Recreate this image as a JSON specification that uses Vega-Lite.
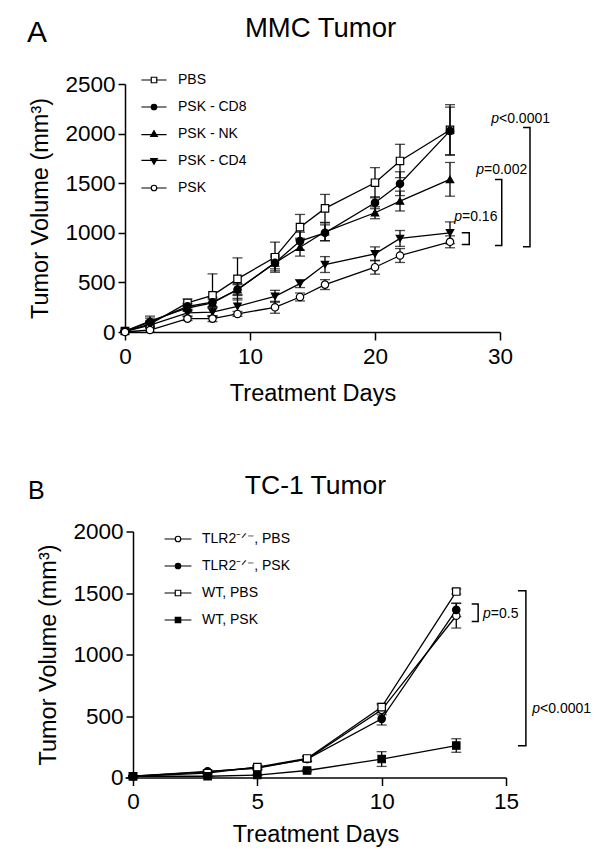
{
  "$schema": "https://vega.github.io/schema/vega-lite/v6.json",
  "background": "white",
  "padding": {"left": 27, "top": 14, "right": 5, "bottom": 5},
  "config": {
    "font": "Liberation Sans",
    "view": {"stroke": null},
    "axis": {"domainColor": "black", "domainWidth": 1.5, "tickColor": "black", "tickWidth": 1.5, "labelColor": "black", "labelFontSize": 22.5, "titleFontSize": 23.5, "titleFontWeight": "normal", "titleColor": "black", "grid": false, "labelFlush": false, "labelOverlap": false, "format": "d"},
    "axisX": {"tickSize": 8, "labelPadding": 5},
    "axisY": {"tickSize": 7, "labelPadding": 3, "titlePadding": 12},
    "legend": {"labelFontSize": 14, "labelColor": "black", "labelFont": "Liberation Sans", "rowPadding": 13, "symbolSize": 30, "symbolStrokeColor": "black", "symbolStrokeWidth": 1.2, "symbolOpacity": 1, "labelOffset": 17, "padding": 0, "symbolOffset": 0, "orient": "none"},
    "title": {"fontWeight": "normal", "color": "black", "anchor": "middle", "baseline": "alphabetic"}
  },
  "resolve": {"scale": {"shape": "independent", "fill": "independent"}, "legend": {"shape": "independent", "fill": "independent"}},
  "datasets": {
    "a": [
      {"series": "PBS", "day": 0, "vol": 10, "sem": 5},
      {"series": "PBS", "day": 2, "vol": 80, "sem": 30},
      {"series": "PBS", "day": 5, "vol": 293, "sem": 40},
      {"series": "PBS", "day": 7, "vol": 370, "sem": 216},
      {"series": "PBS", "day": 9, "vol": 535, "sem": 212},
      {"series": "PBS", "day": 12, "vol": 754, "sem": 152},
      {"series": "PBS", "day": 14, "vol": 1057, "sem": 128},
      {"series": "PBS", "day": 16, "vol": 1246, "sem": 141},
      {"series": "PBS", "day": 20, "vol": 1505, "sem": 152},
      {"series": "PBS", "day": 22, "vol": 1724, "sem": 168},
      {"series": "PBS", "day": 26, "vol": 2037, "sem": 255},
      {"series": "PSK - CD8", "day": 0, "vol": 10, "sem": 5},
      {"series": "PSK - CD8", "day": 2, "vol": 100, "sem": 40},
      {"series": "PSK - CD8", "day": 5, "vol": 259, "sem": 30},
      {"series": "PSK - CD8", "day": 7, "vol": 300, "sem": 50},
      {"series": "PSK - CD8", "day": 9, "vol": 428, "sem": 60},
      {"series": "PSK - CD8", "day": 12, "vol": 697, "sem": 80},
      {"series": "PSK - CD8", "day": 14, "vol": 916, "sem": 90},
      {"series": "PSK - CD8", "day": 16, "vol": 1000, "sem": 80},
      {"series": "PSK - CD8", "day": 20, "vol": 1303, "sem": 60},
      {"series": "PSK - CD8", "day": 22, "vol": 1495, "sem": 120},
      {"series": "PSK - CD8", "day": 26, "vol": 2027, "sem": 240},
      {"series": "PSK - NK", "day": 0, "vol": 10, "sem": 5},
      {"series": "PSK - NK", "day": 2, "vol": 110, "sem": 50},
      {"series": "PSK - NK", "day": 5, "vol": 242, "sem": 30},
      {"series": "PSK - NK", "day": 7, "vol": 293, "sem": 40},
      {"series": "PSK - NK", "day": 9, "vol": 427, "sem": 50},
      {"series": "PSK - NK", "day": 12, "vol": 697, "sem": 60},
      {"series": "PSK - NK", "day": 14, "vol": 855, "sem": 90},
      {"series": "PSK - NK", "day": 16, "vol": 1010, "sem": 90},
      {"series": "PSK - NK", "day": 20, "vol": 1202, "sem": 60},
      {"series": "PSK - NK", "day": 22, "vol": 1320, "sem": 100},
      {"series": "PSK - NK", "day": 26, "vol": 1539, "sem": 170},
      {"series": "PSK - CD4", "day": 0, "vol": 5, "sem": 5},
      {"series": "PSK - CD4", "day": 2, "vol": 70, "sem": 30},
      {"series": "PSK - CD4", "day": 5, "vol": 192, "sem": 30},
      {"series": "PSK - CD4", "day": 7, "vol": 200, "sem": 40},
      {"series": "PSK - CD4", "day": 9, "vol": 259, "sem": 80},
      {"series": "PSK - CD4", "day": 12, "vol": 360, "sem": 60},
      {"series": "PSK - CD4", "day": 14, "vol": 488, "sem": 40},
      {"series": "PSK - CD4", "day": 16, "vol": 680, "sem": 80},
      {"series": "PSK - CD4", "day": 20, "vol": 788, "sem": 70},
      {"series": "PSK - CD4", "day": 22, "vol": 943, "sem": 80},
      {"series": "PSK - CD4", "day": 26, "vol": 1000, "sem": 110},
      {"series": "PSK", "day": 0, "vol": 0, "sem": 5},
      {"series": "PSK", "day": 2, "vol": 20, "sem": 20},
      {"series": "PSK", "day": 5, "vol": 135, "sem": 20},
      {"series": "PSK", "day": 7, "vol": 135, "sem": 30},
      {"series": "PSK", "day": 9, "vol": 182, "sem": 25},
      {"series": "PSK", "day": 12, "vol": 249, "sem": 60},
      {"series": "PSK", "day": 14, "vol": 353, "sem": 40},
      {"series": "PSK", "day": 16, "vol": 478, "sem": 50},
      {"series": "PSK", "day": 20, "vol": 653, "sem": 70},
      {"series": "PSK", "day": 22, "vol": 771, "sem": 70},
      {"series": "PSK", "day": 26, "vol": 909, "sem": 60}
    ],
    "b": [
      {"series": "TLR2⁻ᐟ⁻, PBS", "day": 0, "vol": 10, "sem": 5},
      {"series": "TLR2⁻ᐟ⁻, PBS", "day": 3, "vol": 50, "sem": 10},
      {"series": "TLR2⁻ᐟ⁻, PBS", "day": 5, "vol": 76, "sem": 15},
      {"series": "TLR2⁻ᐟ⁻, PBS", "day": 7, "vol": 150, "sem": 20},
      {"series": "TLR2⁻ᐟ⁻, PBS", "day": 10, "vol": 550, "sem": 40},
      {"series": "TLR2⁻ᐟ⁻, PBS", "day": 13, "vol": 1315, "sem": 100},
      {"series": "TLR2⁻ᐟ⁻, PSK", "day": 0, "vol": 10, "sem": 5},
      {"series": "TLR2⁻ᐟ⁻, PSK", "day": 3, "vol": 45, "sem": 10},
      {"series": "TLR2⁻ᐟ⁻, PSK", "day": 5, "vol": 80, "sem": 15},
      {"series": "TLR2⁻ᐟ⁻, PSK", "day": 7, "vol": 150, "sem": 20},
      {"series": "TLR2⁻ᐟ⁻, PSK", "day": 10, "vol": 477, "sem": 50},
      {"series": "TLR2⁻ᐟ⁻, PSK", "day": 13, "vol": 1363, "sem": 55},
      {"series": "WT, PBS", "day": 0, "vol": 10, "sem": 5},
      {"series": "WT, PBS", "day": 3, "vol": 35, "sem": 10},
      {"series": "WT, PBS", "day": 5, "vol": 85, "sem": 15},
      {"series": "WT, PBS", "day": 7, "vol": 155, "sem": 20},
      {"series": "WT, PBS", "day": 10, "vol": 572, "sem": 30},
      {"series": "WT, PBS", "day": 13, "vol": 1512, "sem": 20},
      {"series": "WT, PSK", "day": 0, "vol": 10, "sem": 5},
      {"series": "WT, PSK", "day": 3, "vol": 10, "sem": 5},
      {"series": "WT, PSK", "day": 5, "vol": 20, "sem": 5},
      {"series": "WT, PSK", "day": 7, "vol": 57, "sem": 10},
      {"series": "WT, PSK", "day": 10, "vol": 150, "sem": 60},
      {"series": "WT, PSK", "day": 13, "vol": 260, "sem": 55}
    ],
    "bracketsA": [
      {"b": "1", "i": 0, "day": 26.94, "vol": 1000}, {"b": "1", "i": 1, "day": 27.54, "vol": 1000}, {"b": "1", "i": 2, "day": 27.54, "vol": 882}, {"b": "1", "i": 3, "day": 26.94, "vol": 882},
      {"b": "2", "i": 0, "day": 29.6, "vol": 1538}, {"b": "2", "i": 1, "day": 30.14, "vol": 1538}, {"b": "2", "i": 2, "day": 30.14, "vol": 872}, {"b": "2", "i": 3, "day": 29.6, "vol": 872},
      {"b": "3", "i": 0, "day": 31.84, "vol": 2061}, {"b": "3", "i": 1, "day": 32.4, "vol": 2061}, {"b": "3", "i": 2, "day": 32.4, "vol": 859}, {"b": "3", "i": 3, "day": 31.84, "vol": 859}
    ],
    "bracketsB": [
      {"b": "1", "i": 0, "day": 13.62, "vol": 1410}, {"b": "1", "i": 1, "day": 13.88, "vol": 1410}, {"b": "1", "i": 2, "day": 13.88, "vol": 1268}, {"b": "1", "i": 3, "day": 13.62, "vol": 1268},
      {"b": "2", "i": 0, "day": 15.48, "vol": 1518}, {"b": "2", "i": 1, "day": 15.8, "vol": 1518}, {"b": "2", "i": 2, "day": 15.8, "vol": 258}, {"b": "2", "i": 3, "day": 15.48, "vol": 258}
    ],
    "pA": [
      {"day": 26.96, "vol": 1118, "rest": "=0.16"},
      {"day": 28.72, "vol": 1589, "rest": "=0.002"},
      {"day": 29.92, "vol": 2111, "rest": "<0.0001"}
    ],
    "pB": [
      {"day": 14.39, "vol": 1296, "rest": "=0.5"},
      {"day": 16.37, "vol": 528, "rest": "<0.0001"}
    ]
  },
  "spacing": 67.5,
  "vconcat": [
    {
      "width": 375,
      "height": 248,
      "title": {"text": "MMC Tumor", "offset": -24, "dx": 8, "fontSize": 27.5},
      "encoding": {
        "x": {"field": "day", "type": "quantitative", "scale": {"domain": [0, 30], "nice": false, "zero": false}, "axis": {"values": [0, 10, 20, 30], "title": "Treatment Days", "titlePadding": 14}},
        "y": {"field": "vol", "type": "quantitative", "scale": {"domain": [0, 2500], "nice": false}, "axis": {"values": [0, 500, 1000, 1500, 2000, 2500], "title": "Tumor Volume (mm³)"}}
      },
      "resolve": {"scale": {"shape": "independent"}, "legend": {"shape": "independent"}},
      "layer": [
        {"data": {"name": "a"}, "mark": {"type": "line", "color": "black", "strokeWidth": 1.3}, "encoding": {"detail": {"field": "series"}}},
        {"data": {"name": "a"}, "mark": {"type": "errorbar", "color": "black", "thickness": 1.3, "ticks": {"size": 10, "thickness": 1.3, "color": "black"}}, "encoding": {"yError": {"field": "sem"}, "detail": {"field": "series"}}},
        {"data": {"name": "a"}, "mark": {"type": "point", "filled": false, "color": "black", "strokeWidth": 1.2, "size": 30, "opacity": 0},
          "encoding": {
            "shape": {"field": "series", "type": "nominal",
              "scale": {"domain": ["PBS", "PSK - CD8", "PSK - NK", "PSK - CD4", "PSK"],
                "range": [
                  "M-4.6,0H-1M1,0H4.6M-1,-1H1V1H-1Z",
                  "M-4.6,0H-1M1,0H4.6M1,0A1,1,0,1,1,-1,0A1,1,0,1,1,1,0ZM0.75,0A0.75,0.75,0,1,1,-0.75,0A0.75,0.75,0,1,1,0.75,0ZM0.5,0A0.5,0.5,0,1,1,-0.5,0A0.5,0.5,0,1,1,0.5,0ZM0.25,0A0.25,0.25,0,1,1,-0.25,0A0.25,0.25,0,1,1,0.25,0Z",
                  "M-4.6,0.2H4.6M0,-1.2L1.2,0.9L-1.2,0.9ZM0,-0.85L0.9,0.725L-0.9,0.725ZM0,-0.5L0.6,0.55L-0.6,0.55ZM0,-0.15L0.3,0.375L-0.3,0.375Z",
                  "M-4.6,-0.2H4.6M0,1.2L1.2,-0.9L-1.2,-0.9ZM0,0.85L0.9,-0.725L-0.9,-0.725ZM0,0.5L0.6,-0.55L-0.6,-0.55ZM0,0.15L0.3,-0.375L-0.3,-0.375Z",
                  "M-4.6,0H-1M1,0H4.6M1,0A1,1,0,1,1,-1,0A1,1,0,1,1,1,0Z"
                ]},
              "legend": {"title": null, "legendX": 22, "legendY": -11, "symbolOpacity": 1}}
          }},
        {"data": {"name": "a"}, "mark": {"type": "point", "stroke": "black", "strokeWidth": 1.2, "size": 55, "opacity": 1, "fillOpacity": 1},
          "encoding": {
            "shape": {"field": "series", "type": "nominal", "scale": {"domain": ["PBS", "PSK - CD8", "PSK - NK", "PSK - CD4", "PSK"], "range": ["square", "circle", "triangle-up", "triangle-down", "circle"]}, "legend": null},
            "fill": {"field": "series", "type": "nominal", "scale": {"domain": ["PBS", "PSK - CD8", "PSK - NK", "PSK - CD4", "PSK"], "range": ["white", "black", "black", "black", "white"]}, "legend": null}
          }},
        {"data": {"name": "bracketsA"}, "mark": {"type": "line", "color": "black", "strokeWidth": 1.5}, "encoding": {"detail": {"field": "b"}, "order": {"field": "i", "type": "quantitative"}}},
        {"data": {"name": "pA"}, "mark": {"type": "text", "fontSize": 14, "fontStyle": "italic", "align": "right", "baseline": "alphabetic", "color": "black"}, "encoding": {"text": {"value": "p"}}},
        {"data": {"name": "pA"}, "mark": {"type": "text", "fontSize": 14, "align": "left", "baseline": "alphabetic", "color": "black"}, "encoding": {"text": {"field": "rest"}}},
        {"data": {"values": [{"day": -7.84, "vol": 2919, "label": "A"}]}, "mark": {"type": "text", "fontSize": 30, "align": "left", "baseline": "alphabetic", "color": "black"}, "encoding": {"text": {"field": "label"}}}
      ]
    },
    {
      "width": 381,
      "height": 246,
      "title": {"text": "TC-1 Tumor", "offset": -21, "dx": 0, "fontSize": 26.5},
      "encoding": {
        "x": {"field": "day", "type": "quantitative", "scale": {"domain": [-0.3217, 15], "nice": false, "zero": false}, "axis": {"values": [0, 5, 10, 15], "title": "Treatment Days", "titlePadding": 9}},
        "y": {"field": "vol", "type": "quantitative", "scale": {"domain": [0, 2000], "nice": false}, "axis": {"values": [0, 500, 1000, 1500, 2000], "title": "Tumor Volume (mm³)", "offset": -8}}
      },
      "resolve": {"scale": {"shape": "independent"}, "legend": {"shape": "independent"}},
      "layer": [
        {"data": {"name": "b"}, "mark": {"type": "line", "color": "black", "strokeWidth": 1.3}, "encoding": {"detail": {"field": "series"}}},
        {"data": {"name": "b"}, "mark": {"type": "errorbar", "color": "black", "thickness": 1.3, "ticks": {"size": 10, "thickness": 1.3, "color": "black"}}, "encoding": {"yError": {"field": "sem"}, "detail": {"field": "series"}}},
        {"data": {"name": "b"}, "mark": {"type": "point", "filled": false, "color": "black", "strokeWidth": 1.2, "size": 30, "opacity": 0},
          "encoding": {
            "shape": {"field": "series", "type": "nominal",
              "scale": {"domain": ["TLR2⁻ᐟ⁻, PBS", "TLR2⁻ᐟ⁻, PSK", "WT, PBS", "WT, PSK"],
                "range": [
                  "M-4.9,0H-1M1,0H4.9M1,0A1,1,0,1,1,-1,0A1,1,0,1,1,1,0Z",
                  "M-4.9,0H-1M1,0H4.9M1,0A1,1,0,1,1,-1,0A1,1,0,1,1,1,0ZM0.75,0A0.75,0.75,0,1,1,-0.75,0A0.75,0.75,0,1,1,0.75,0ZM0.5,0A0.5,0.5,0,1,1,-0.5,0A0.5,0.5,0,1,1,0.5,0ZM0.25,0A0.25,0.25,0,1,1,-0.25,0A0.25,0.25,0,1,1,0.25,0Z",
                  "M-4.9,0H-1M1,0H4.9M-1,-1H1V1H-1Z",
                  "M-4.9,0H-1M1,0H4.9M-1,-1H1V1H-1ZM-0.75,-0.75H0.75V0.75H-0.75ZM-0.5,-0.5H0.5V0.5H-0.5ZM-0.25,-0.25H0.25V0.25H-0.25Z"
                ]},
              "legend": {"title": null, "legendX": 46, "legendY": 0.5, "symbolOpacity": 1}}
          }},
        {"data": {"name": "b"}, "mark": {"type": "point", "stroke": "black", "strokeWidth": 1.2, "size": 55, "opacity": 1, "fillOpacity": 1},
          "encoding": {
            "shape": {"field": "series", "type": "nominal", "scale": {"domain": ["TLR2⁻ᐟ⁻, PBS", "TLR2⁻ᐟ⁻, PSK", "WT, PBS", "WT, PSK"], "range": ["circle", "circle", "square", "square"]}, "legend": null},
            "fill": {"field": "series", "type": "nominal", "scale": {"domain": ["TLR2⁻ᐟ⁻, PBS", "TLR2⁻ᐟ⁻, PSK", "WT, PBS", "WT, PSK"], "range": ["white", "black", "white", "black"]}, "legend": null}
          }},
        {"data": {"name": "bracketsB"}, "mark": {"type": "line", "color": "black", "strokeWidth": 1.5}, "encoding": {"detail": {"field": "b"}, "order": {"field": "i", "type": "quantitative"}}},
        {"data": {"name": "pB"}, "mark": {"type": "text", "fontSize": 14, "fontStyle": "italic", "align": "right", "baseline": "alphabetic", "color": "black"}, "encoding": {"text": {"value": "p"}}},
        {"data": {"name": "pB"}, "mark": {"type": "text", "fontSize": 14, "align": "left", "baseline": "alphabetic", "color": "black"}, "encoding": {"text": {"field": "rest"}}},
        {"data": {"values": [{"day": -4.22, "vol": 2266, "label": "B"}]}, "mark": {"type": "text", "fontSize": 25, "align": "left", "baseline": "alphabetic", "color": "black"}, "encoding": {"text": {"field": "label"}}}
      ]
    }
  ]
}
